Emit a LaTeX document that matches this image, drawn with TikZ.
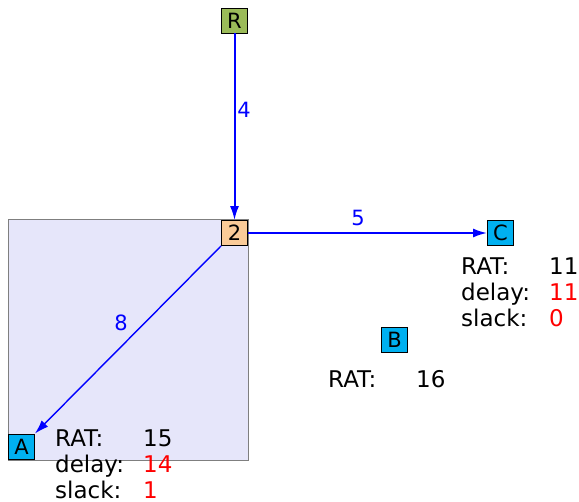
\documentclass[tikz,border=0pt]{standalone}
\usepackage{fontspec}
\setmainfont{DejaVu Sans}
\usetikzlibrary{arrows.meta}
\definecolor{TGBlue}{HTML}{0000FF}
\definecolor{TGRed}{HTML}{FF0000}
\definecolor{TGSky}{HTML}{00B0F0}
\definecolor{TGGreen}{HTML}{9BBB59}
\definecolor{TGPeach}{HTML}{FACB98}
\definecolor{TGRegion}{HTML}{E6E6FA}
\definecolor{TGFrame}{HTML}{7F7F7F}
\tikzset{
  pin/.style={draw=black,line width=0.8pt,minimum width=26pt,minimum height=25pt,
              inner sep=0pt,font=\fontsize{21}{23}\selectfont},
  pinsink/.style={pin,fill=TGSky},
  pinroot/.style={pin,fill=TGGreen},
  pingate/.style={pin,fill=TGPeach},
  wire/.style={-{Latex[length=14pt,width=9pt]},TGBlue,line width=2pt},
  wirelabel/.style={text=TGBlue,font=\fontsize{21}{23}\selectfont},
  attr/.style={anchor=base west,inner sep=0pt,font=\fontsize{23}{26}\selectfont},
  attrval/.style={attr,text=TGRed},
  region/.style={draw=TGFrame,line width=0.8pt,fill=TGRegion},
}

\begin{document}
\begin{tikzpicture}[x=1pt,y=-1pt]
  \useasboundingbox (0,0) rectangle (579,502);

  % shaded region round gate 2
  \node[region,minimum width=240pt,minimum height=241pt,inner sep=0pt] (box) at (128,339.5) {};

  \node[pinroot] (R) at (234.5,20.5) {R};
  \node[pingate] (two) at (234.5,233) {2};
  \node[pinsink] (C) at (500.5,233) {C};
  \node[pinsink] (B) at (394.5,339.5) {B};
  \node[pinsink] (A) at (21.5,446.5) {A};

  \draw[wire] (R)--(two);
  \draw[wire] (two.east)--(C.west);
  \draw[wire,line width=1.4pt] (two.south west)--(A.north east);

  \node[wirelabel] (w4) at (244,110) {4};
  \node[wirelabel] (w5) at (358,218) {5};
  \node[wirelabel] (w8) at (121,323) {8};

  % timing of C
  \node[attr] (cRAT) at (461,275) {RAT:};
  \node[attr] (cRATv) at (549,275) {11};
  \node[attr] (cDel) at (461,301) {delay:};
  \node[attrval] (cDelv) at (549,301) {11};
  \node[attr] (cSl) at (461,327) {slack:};
  \node[attrval] (cSlv) at (549,327) {0};

  % timing of B
  \node[attr] (bRAT) at (328,388) {RAT:};
  \node[attr] (bRATv) at (416,388) {16};

  % timing of A
  \node[attr] (aRAT) at (55,447) {RAT:};
  \node[attr] (aRATv) at (143,447) {15};
  \node[attr] (aDel) at (55,473) {delay:};
  \node[attrval] (aDelv) at (143,473) {14};
  \node[attr] (aSl) at (55,499) {slack:};
  \node[attrval] (aSlv) at (143,499) {1};
\end{tikzpicture}
\end{document}
